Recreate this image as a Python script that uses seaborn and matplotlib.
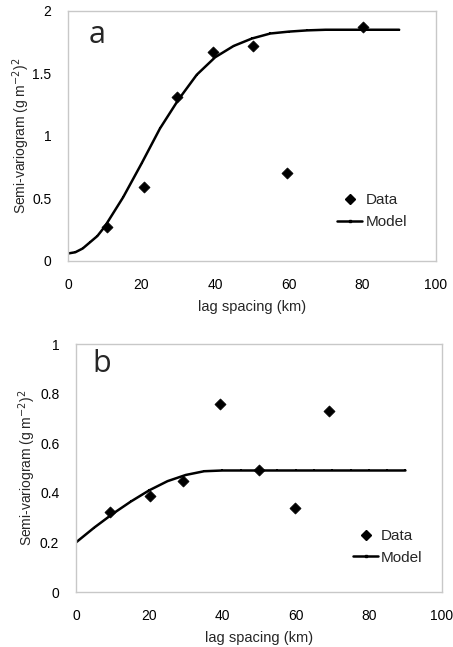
import matplotlib
matplotlib.use("Agg")
import matplotlib.pyplot as plt
import seaborn as sns
import pandas as pd
from matplotlib.lines import Line2D

# ---- data ----
a_data_x = [10.7, 20.6, 29.6, 39.5, 50.4, 59.6, 80.1]
a_data_y = [0.27, 0.59, 1.31, 1.67, 1.72, 0.70, 1.87]
a_model_x = [0, 2, 4, 6, 8, 10, 15, 20, 25, 30, 35, 40, 45, 50, 55, 60, 65, 70, 75, 80, 85, 90]
a_model_y = [0.06, 0.07, 0.10, 0.15, 0.20, 0.275, 0.51, 0.78, 1.06, 1.29, 1.49, 1.63, 1.72, 1.78, 1.82, 1.835, 1.845, 1.85, 1.85, 1.85, 1.85, 1.85]

b_data_x = [9.3, 20.2, 29.3, 39.3, 50.1, 59.7, 69.0]
b_data_y = [0.324, 0.388, 0.448, 0.757, 0.492, 0.34, 0.731]
b_model_x = [0, 5, 10, 15, 20, 25, 30, 35, 40, 45, 50, 55, 60, 65, 70, 75, 80, 85, 90]
b_model_y = [0.20, 0.26, 0.315, 0.365, 0.41, 0.447, 0.472, 0.487, 0.49, 0.49, 0.49, 0.49, 0.49, 0.49, 0.49, 0.49, 0.49, 0.49, 0.49]

panel_labels = ["a", "b"]
a_yticks = [0, 0.5, 1, 1.5, 2]
a_yticklabels = ["0", "0.5", "1", "1.5", "2"]
b_yticks = [0, 0.2, 0.4, 0.6, 0.8, 1]
b_yticklabels = ["0", "0.2", "0.4", "0.6", "0.8", "1"]
xticks = [0, 20, 40, 60, 80, 100]

sns.set_theme(style="white")
plt.rcParams['font.family'] = ['Liberation Sans', 'DejaVu Sans']

fig = plt.figure(figsize=(4.53, 6.47), dpi=100)
ax1 = fig.add_axes([0.150, 0.5966, 0.8124, 0.3864])
ax2 = fig.add_axes([0.1678, 0.085, 0.808, 0.3833])

spine_col = "#c8c8c8"
ylab = r"Semi-variogram (g m$^{-2}$)$^{2}$"

def style(ax, yticks, ylabels, ylim, ylab_x):
    ax.set_xlim(0, 100)
    ax.set_ylim(*ylim)
    ax.set_xticks(xticks)
    ax.set_xticklabels([str(t) for t in xticks])
    ax.set_yticks(yticks)
    ax.set_yticklabels(ylabels)
    for s in ax.spines.values():
        s.set_color(spine_col)
        s.set_linewidth(1.0)
    ax.tick_params(axis="both", direction="out", length=3, width=1, color=spine_col,
                   labelsize=10, labelcolor="black", pad=9)
    ax.set_ylabel(ylab, fontsize=10)
    ax.yaxis.set_label_coords(ylab_x, 0.5)
    ax.set_xlabel("lag spacing (km)", fontsize=10.5, labelpad=6)

def panel(ax, dx, dy, mx, my, label, lpos, legpos):
    sns.lineplot(x=mx, y=my, ax=ax, color="black", linewidth=1.8, marker="s",
                 markersize=2, markeredgewidth=0, estimator=None, sort=False)
    sns.scatterplot(x=dx, y=dy, ax=ax, color="black", marker="D", s=32,
                    edgecolor="black", linewidth=0.5, zorder=5)
    ax.text(lpos[0], lpos[1], label, transform=ax.transAxes, fontsize=22,
            family="Open Sans", va="top", ha="left")
    handles = [Line2D([], [], color="black", marker="D", linestyle="none", markersize=5.5),
               Line2D([], [], color="black", marker="s", markersize=2, linewidth=1.8)]
    ax.legend(handles, ["Data", "Model"], loc="upper left", bbox_to_anchor=legpos,
              frameon=False, fontsize=11, handlelength=1.65, handletextpad=0.2,
              labelspacing=0.5, borderaxespad=0)

panel(ax1, a_data_x, a_data_y, a_model_x, a_model_y, panel_labels[0], (0.055, 0.965), (0.715, 0.295))
style(ax1, a_yticks, a_yticklabels, (0, 2), -0.097)

panel(ax2, b_data_x, b_data_y, b_model_x, b_model_y, panel_labels[1], (0.045, 0.978), (0.74, 0.278))
style(ax2, b_yticks, b_yticklabels, (0, 1), -0.105)

fig.savefig("out.png", dpi=100, facecolor="white")
